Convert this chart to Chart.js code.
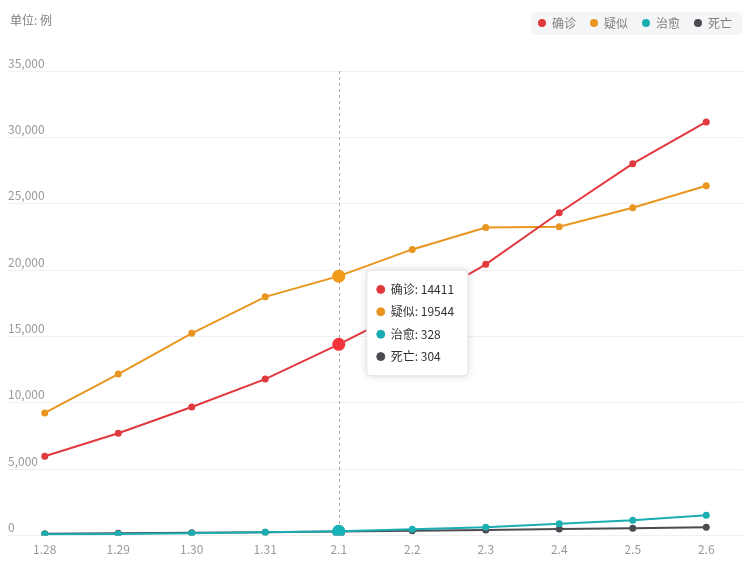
<!DOCTYPE html>
<html>
<head>
<meta charset="utf-8">
<script src="https://cdn.jsdelivr.net/npm/chart.js@4"></script>
<style>
  html, body { margin: 0; padding: 0; background: #fff; }
  #wrap { width: 750px; height: 562px; }
</style>
</head>
<body>
<div id="wrap"><canvas id="chart" width="750" height="562"></canvas></div>
<script>
const categories = ['1.28', '1.29', '1.30', '1.31', '2.1', '2.2', '2.3', '2.4', '2.5', '2.6'];
const seriesNames = ['确诊', '疑似', '治愈', '死亡'];
const confirmed = [5974, 7711, 9692, 11791, 14411, 17205, 20438, 24324, 28018, 31161];
const suspected = [9239, 12167, 15238, 17988, 19544, 21558, 23214, 23260, 24702, 26359];
const cured = [103, 124, 171, 243, 328, 475, 632, 892, 1153, 1540];
const deaths = [132, 170, 213, 259, 304, 361, 425, 490, 563, 636];
const yTicks = { min: 0, max: 35000, step: 5000 };
const unitLabel = '单位: 例';
const activeIndex = 4;

const colors = ['#e0393e', '#e8961f', '#1aaeb2', '#4a4c52'];
const hoverColors = ['#f3343a', '#f29a1a', '#16b4b9', '#4a4c52'];
const FONT = "'Noto Sans CJK SC', 'Noto Sans', sans-serif";

// legend background, unit text, dashed crosshair, tooltip shadow
const decorPlugin = {
  id: 'decor',
  afterInit(chart) {
    const lg = chart.legend;
    const origFit = lg.fit;
    lg.fit = function () {
      origFit.call(this);
      this.height += 32;
    };
  },
  afterLayout(chart) {
    // nudge legend items a little to the right
    chart.legend.left += 3;
    chart.legend.right += 3;
  },
  beforeDraw(chart) {
    const ctx = chart.ctx;
    ctx.save();
    ctx.fillStyle = '#f4f5f7';
    ctx.beginPath();
    ctx.roundRect(531, 12, 211, 23, 5);
    ctx.fill();
    ctx.fillStyle = '#808080';
    ctx.font = '12px ' + FONT;
    ctx.textBaseline = 'middle';
    ctx.fillText(unitLabel, 10, 20);
    ctx.restore();
  },
  beforeDatasetsDraw(chart) {
    const active = chart.tooltip.getActiveElements();
    if (!active.length) return;
    const x = active[0].element.x;
    const area = chart.chartArea;
    const ctx = chart.ctx;
    ctx.save();
    ctx.strokeStyle = '#aaaaaa';
    ctx.lineWidth = 1;
    ctx.setLineDash([3, 3]);
    ctx.beginPath();
    ctx.moveTo(Math.round(x) + 0.5, area.top);
    ctx.lineTo(Math.round(x) + 0.5, area.bottom);
    ctx.stroke();
    ctx.restore();
  },
  beforeTooltipDraw(chart, args) {
    const t = args.tooltip;
    const ctx = chart.ctx;
    ctx.save();
    ctx.shadowColor = 'rgba(0,0,0,0.15)';
    ctx.shadowBlur = 8;
    ctx.fillStyle = '#fff';
    ctx.beginPath();
    ctx.roundRect(t.x, t.y, t.width, t.height, 4);
    ctx.fill();
    ctx.restore();
  }
};

Chart.Tooltip.positioners.fixed = function (elements, eventPosition) {
  if (!elements.length) return false;
  return { x: elements[0].element.x, y: eventPosition.y };
};

const seriesData = [confirmed, suspected, cured, deaths];

const chart = new Chart(document.getElementById('chart'), {
  type: 'line',
  data: {
    labels: categories,
    datasets: seriesNames.map((name, i) => ({
      label: name,
      data: seriesData[i],
      borderColor: colors[i],
      backgroundColor: colors[i],
      borderWidth: 2,
      pointRadius: 3.5,
      pointBorderWidth: 0,
      pointHoverRadius: 6.5,
      pointHoverBorderWidth: 0,
      pointBackgroundColor: colors[i],
      pointHoverBackgroundColor: hoverColors[i],
      tension: 0
    }))
  },
  options: {
    responsive: false,
    animation: false,
    events: [],
    layout: { padding: { top: 3, left: 8, right: 7, bottom: -2 } },
    scales: {
      x: {
        offset: true,
        grid: { display: false, drawTicks: false },
        border: { display: false },
        ticks: { color: '#999', font: { family: FONT, size: 12 }, padding: 7, maxRotation: 0 }
      },
      y: {
        min: yTicks.min,
        max: yTicks.max,
        border: { display: false },
        grid: { color: '#f0f0f0', drawTicks: false },
        ticks: {
          stepSize: yTicks.step,
          mirror: true,
          padding: 0,
          labelOffset: -8,
          color: '#999',
          font: { family: FONT, size: 12 }
        }
      }
    },
    plugins: {
      legend: {
        position: 'top',
        align: 'end',
        labels: {
          usePointStyle: true,
          pointStyle: 'circle',
          boxWidth: 8,
          boxHeight: 5.7,
          padding: 14,
          color: '#808080',
          font: { family: FONT, size: 12 }
        }
      },
      tooltip: {
        position: 'fixed',
        xAlign: 'left',
        yAlign: 'center',
        caretSize: 0,
        caretPadding: 28,
        backgroundColor: '#ffffff',
        borderColor: '#e2e2e2',
        borderWidth: 1,
        cornerRadius: 4,
        padding: { left: 10, right: 14, top: 12, bottom: 12 },
        bodyColor: '#333',
        bodyFont: { family: FONT, size: 12 },
        bodySpacing: 8,
        usePointStyle: true,
        boxWidth: 8,
        boxHeight: 8,
        boxPadding: 4,
        displayColors: true,
        callbacks: {
          title: () => '',
          label: (c) => c.dataset.label + ': ' + c.raw,
          labelColor: (c) => ({ borderColor: colors[c.datasetIndex], backgroundColor: colors[c.datasetIndex], borderWidth: 0 }),
          labelPointStyle: () => ({ pointStyle: 'circle', rotation: 0 })
        }
      }
    }
  },
  plugins: [decorPlugin]
});

const actives = seriesNames.map((n, i) => ({ datasetIndex: i, index: activeIndex }));
chart.setActiveElements(actives);
chart.tooltip.setActiveElements(actives, { x: 0, y: 323 });
chart.update();
</script>
</body>
</html>
